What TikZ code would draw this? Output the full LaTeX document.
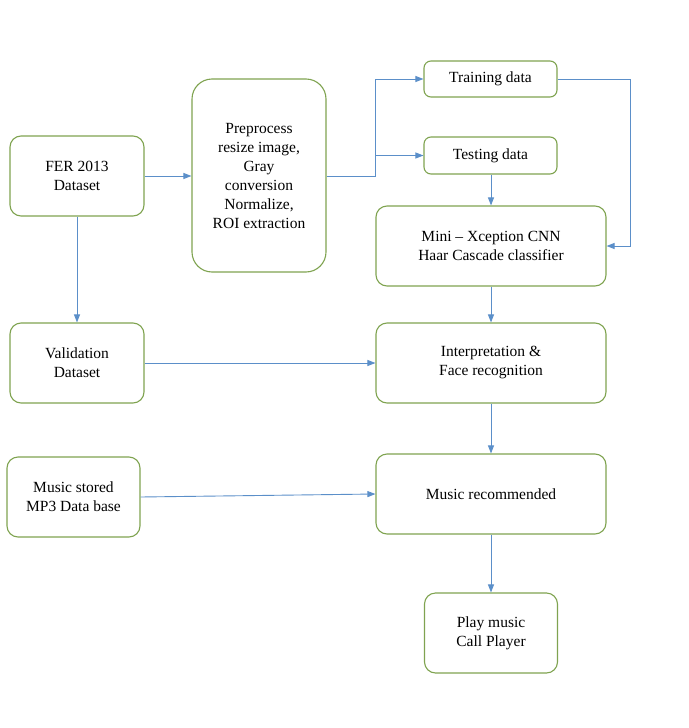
\documentclass[tikz,border=0pt]{standalone}
\usepackage{fontspec}
\setmainfont{Liberation Serif}
\usetikzlibrary{arrows.meta}
\definecolor{boxgreen}{HTML}{7FA350}
\definecolor{arrowblue}{HTML}{5B8FC9}
\begin{document}
\begin{tikzpicture}[x=1pt,y=-1pt,
  box/.style={draw=boxgreen, line width=1.1pt, rounded corners=11pt, align=center,
    font=\rmfamily\fontsize{15.5}{19}\selectfont, inner sep=0pt},
  conn/.style={draw=arrowblue, line width=0.9pt, -{Triangle[length=8pt,width=6pt]}}]
\useasboundingbox (0,0) rectangle (688,728);
\node[box, minimum width=134pt, minimum height=80pt] (fer) at (77,176) {FER 2013\\Dataset};
\node[box, minimum width=134pt, minimum height=193pt, rounded corners=20pt] (pre) at (259,175.5) {Preprocess\\resize image,\\Gray\\conversion\\Normalize,\\ROI extraction};
\node[box, minimum width=133pt, minimum height=36pt, rounded corners=7pt] (train) at (490.5,79) {Training data};
\node[box, minimum width=133pt, minimum height=37pt, rounded corners=7pt] (test) at (490.5,155.5) {Testing data};
\node[box, minimum width=230pt, minimum height=80pt] (mini) at (491,246) {Mini -- Xception CNN\\Haar Cascade classifier};
\node[box, minimum width=134pt, minimum height=80pt] (val) at (77,363) {Validation\\Dataset};
\node[box, minimum width=230pt, minimum height=80pt] (interp) at (491,363) {Interpretation \&\\Face recognition};
\node[box, minimum width=133pt, minimum height=80pt] (mp3) at (73.5,497) {Music stored\\MP3 Data base};
\node[box, minimum width=230pt, minimum height=80pt] (rec) at (491,494) {Music recommended};
\node[box, minimum width=133pt, minimum height=80pt] (play) at (491,633) {Play music\\Call Player};
\coordinate (split) at (375,176);
\coordinate (tr) at (630,79);
\coordinate (rr) at (630,246);
\draw[conn] (fer.east) -- (pre.west |- fer.east);
\draw[conn] (pre.east |- split) -- (split) |- (train.west);
\draw[conn] (split) |- (test.west);
\draw[conn] (train.east) -- (tr) -- (rr) -- (mini.east);
\draw[conn] (test.south -| mini.north) -- (mini.north);
\draw[conn] (fer.south) -- (val.north);
\draw[conn] (val.east) -- (interp.west);
\draw[conn] (mini.south) -- (interp.north);
\draw[conn] (interp.south) -- (rec.north);
\draw[conn] (mp3.east) -- (rec.west);
\draw[conn] (rec.south) -- (play.north);
\end{tikzpicture}
\end{document}
